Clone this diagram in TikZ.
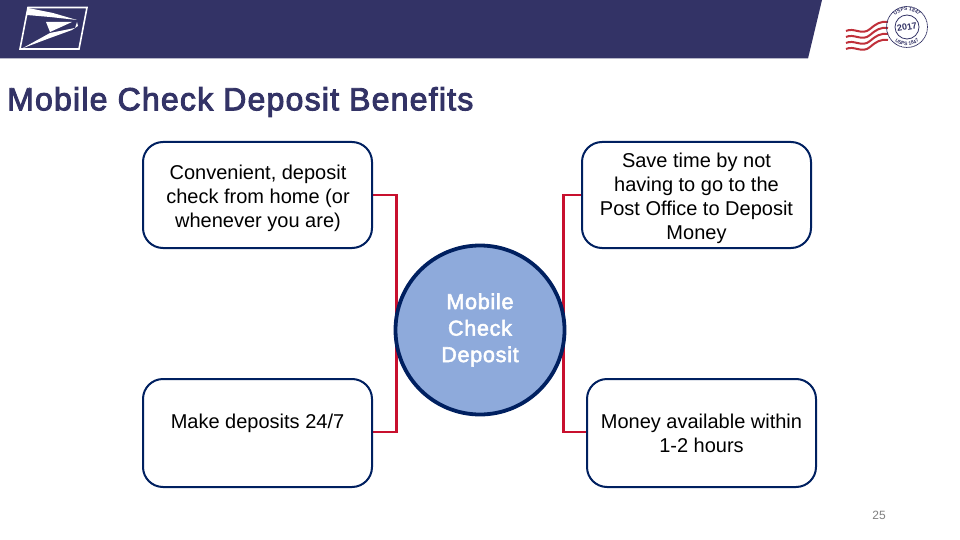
\documentclass[tikz,border=0pt]{standalone}
\usepackage{fontspec}
\setmainfont{Liberation Sans}
\newfontfamily\ttlfont[FakeBold=3,LetterSpace=3.8]{Liberation Sans}
\newfontfamily\hubfont[FakeBold=2.5,LetterSpace=3.5]{Liberation Sans}
\usetikzlibrary{decorations.text}
\definecolor{hdr}{HTML}{333366}
\definecolor{edge}{HTML}{002060}
\definecolor{fillc}{HTML}{8EAADB}
\definecolor{wire}{HTML}{C8102E}
\definecolor{ttl}{HTML}{333366}
\definecolor{stamp}{HTML}{C0303A}
\tikzset{
  card/.style={draw=edge,line width=2pt,rounded corners=20pt,fill=white,minimum width=229pt,inner sep=0pt,align=center,text=black},
  cardtext/.style={align=center,text=black,inner sep=0pt,font=\fontsize{20}{24}\selectfont},
  hub/.style={circle,draw=edge,line width=3.8pt,fill=fillc,minimum size=169pt,inner sep=0pt,align=center,text=white,font=\hubfont\fontsize{21.5}{26.5}\selectfont},
  link/.style={draw=wire,line width=2.6pt},
  wave/.style={draw=stamp,line width=2pt},
  ring/.style={draw=hdr,line width=0.8pt}
}
\begin{document}
\begin{tikzpicture}[x=1pt,y=-1pt]
\useasboundingbox (0,0) rectangle (960,540);
\fill[white] (0,0) rectangle (960,540);
\fill[hdr] (0,0) -- (822,0) -- (808,58.5) -- (0,58.5) -- cycle;
% eagle logo
\draw[white,line width=1.6pt] (28,7.5) -- (87,7.5) -- (79,49) -- (20,49) -- cycle;
\fill[white] (28,8) -- (53,13) -- (77,20) -- (50,17) -- (27,15) -- cycle;
\fill[white] (22,48.5) -- (50,33) -- (75,28) -- (77,22) -- (78,26) -- (72,30) -- (50,38) -- cycle;
\fill[white] (46,22) -- (72,22) -- (50,32) -- cycle;
% postmark
\foreach \yy in {0,6,12,18}{
  \draw[wave] (846,{31+\yy}) .. controls (854,{27+\yy}) and (862,{36+\yy}) .. (870,{29+\yy}) .. controls (876,{24+\yy}) and (880,{21+\yy}) .. (888,{22+\yy});
}
\draw[ring,dash pattern=on 1.2pt off 0.5pt] (907,27) circle (20.5);
\draw[ring] (907,27) circle (12);
\node[text=hdr,font=\bfseries\fontsize{9}{9}\selectfont,rotate=10,inner sep=0pt] (yr) at (907,27) {2017};
\path[postaction={decorate,decoration={text along path,text align=center,text={|\bfseries\fontsize{5}{6}\selectfont\color{hdr}|USPS 1847}}}] (890.5,27) arc[start angle=180,end angle=0,x radius=16.5,y radius=-16.5];
\path[postaction={decorate,decoration={text along path,text align=center,text={|\bfseries\fontsize{5}{6}\selectfont\color{hdr}|USPS 1847}}}] (888.5,27) arc[start angle=180,end angle=360,x radius=18.5,y radius=-18.5];
% title
\node[anchor=west,inner sep=0pt,text=ttl,font=\ttlfont\fontsize{32}{38}\selectfont] (title) at (7,102) {Mobile Check Deposit Benefits};
% connectors
\coordinate (lt) at (372,195);
\coordinate (lb) at (372,432);
\coordinate (rt) at (582,195);
\coordinate (rb) at (587,432);
\draw[link] (lt) -| (396.5,432) -- (lb);
\draw[link] (rt) -| (563.5,432) -- (rb);
% cards
\node[card,minimum height=106pt] (a) at (257.5,195) {};
\node[card,minimum height=106pt] (b) at (696.5,195) {};
\node[card,minimum height=108pt] (c) at (257.5,433) {};
\node[card,minimum height=108pt] (d) at (701.5,433) {};
\node[cardtext] (at) at (258,198) {Convenient, deposit\\check from home (or\\whenever you are)};
\node[cardtext] (bt) at (696.5,198) {Save time by not\\having to go to the\\Post Office to Deposit\\Money};
\node[cardtext] (ct) at (257.5,423.5) {Make deposits 24/7};
\node[cardtext] (dt) at (701.5,433) {Money available within\\1-2 hours};
\node[hub] (h) at (480,330) {Mobile\\Check\\Deposit};
\node[text=gray,font=\fontsize{12}{14}\selectfont] (pg) at (879,515) {25};
\end{tikzpicture}
\end{document}
